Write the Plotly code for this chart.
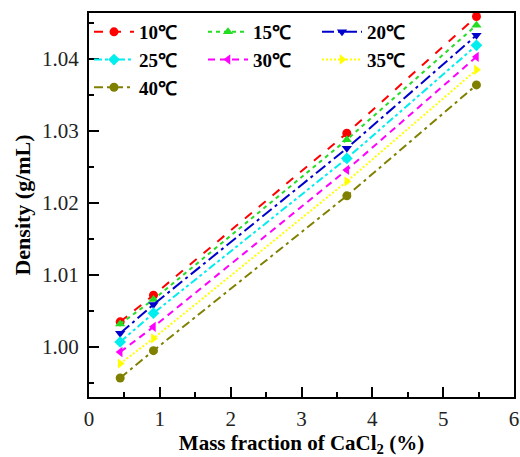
import plotly.graph_objects as go

mass_fraction = [0.44, 0.91, 3.64, 5.47]
temps = ["10℃", "15℃", "20℃", "25℃", "30℃", "35℃", "40℃"]
density = {
    "10℃": [1.0035, 1.0072, 1.0297, 1.0459],
    "15℃": [1.0032, 1.0066, 1.0288, 1.0447],
    "20℃": [1.0019, 1.0059, 1.0276, 1.0433],
    "25℃": [1.0007, 1.0047, 1.0262, 1.0419],
    "30℃": [0.9993, 1.0028, 1.0246, 1.0403],
    "35℃": [0.9977, 1.0012, 1.0230, 1.0385],
    "40℃": [0.9957, 0.9995, 1.0210, 1.0364],
}
colors = ["#FF0000", "#22DD22", "#0000CC", "#00EEEE", "#FF00FF", "#FFFF00", "#808000"]
symbols = ["circle", "triangle-up", "triangle-down", "diamond", "triangle-left", "triangle-right", "circle"]
dashes = ["dash", "4px,4px", "12px,4px,3px,4px", "8px,3px,3px,3px,3px,3px", "7px,5px", "2px,2px", "9px,4px,3px,4px"]

FONT = "Liberation Serif, Times New Roman, serif"

fig = go.Figure()
for t, c, s, d in zip(temps, colors, symbols, dashes):
    fig.add_trace(go.Scatter(
        x=mass_fraction, y=density[t], name=t, mode="lines+markers",
        line=dict(color=c, width=2, dash=d),
        marker=dict(symbol=s, size=9, color=c),
        cliponaxis=False,
    ))

axis_common = dict(
    showline=True, linecolor="black", linewidth=2, mirror=True,
    ticks="inside", ticklen=10, tickwidth=1.5, tickcolor="black",
    showgrid=False, zeroline=False, automargin=False,
    tickfont=dict(family=FONT, size=21, color="#222"),
)
fig.update_xaxes(
    range=[0, 6], dtick=1, tick0=0,
    minor=dict(ticks="inside", ticklen=5, tickwidth=1.5, tickcolor="black", dtick=0.5, tick0=0),
    title=dict(text="<b>Mass fraction of CaCl<sub>2</sub> (%)</b>", font=dict(family=FONT, size=21, color="black"), standoff=0),
    ticklabelstandoff=2,
    **axis_common,
)
fig.update_yaxes(
    range=[0.99306, 1.04639], dtick=0.01, tick0=1.0, tickformat=".2f",
    minor=dict(ticks="inside", ticklen=5, tickwidth=1.5, tickcolor="black", dtick=0.005, tick0=1.0),
    title=dict(text="<b>Density (g/mL)</b>", font=dict(family=FONT, size=22, color="black"), standoff=5),
    ticklabelstandoff=4,
    **axis_common,
)
fig.update_layout(
    width=520, height=457,
    margin=dict(l=89, r=6, t=13, b=60),
    plot_bgcolor="white", paper_bgcolor="white",
    legend=dict(
        orientation="h", x=0.0, y=1.0, xanchor="left", yanchor="top",
        entrywidth=59, entrywidthmode="pixels",
        font=dict(family=FONT, size=19, color="black", weight="bold"),
        bgcolor="rgba(0,0,0,0)", tracegroupgap=0, itemwidth=40,
    ),
)
fig.write_html(
    "out.html",
    config={"displayModeBar": False},
    post_script="document.body.style.margin='0';document.body.style.overflow='hidden';",
)
